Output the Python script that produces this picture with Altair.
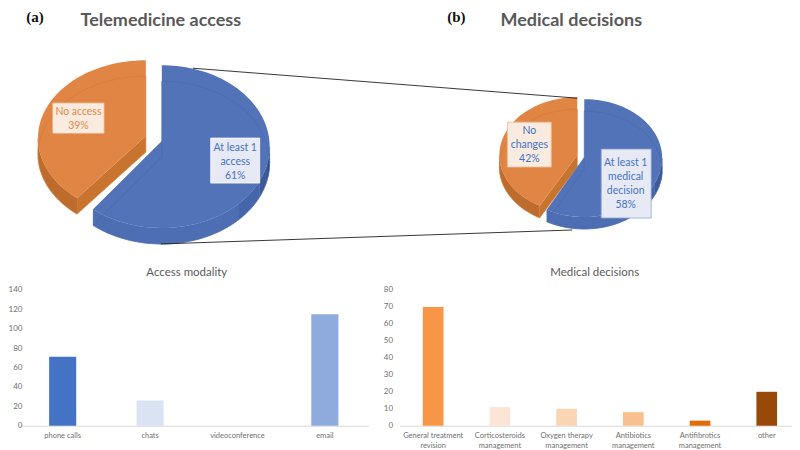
import math
import altair as alt

# --- values
access_labels = ["At least 1 access", "No access"]
access_shares = [61, 39]
decision_labels = ["At least 1 medical decision", "No changes"]
decision_shares = [58, 42]

modality_cats = ["phone calls", "chats", "videoconference", "email"]
modality_vals = [71, 26, 0, 115]
modality_cols = ["#4472c4", "#dae3f3", "#c5d3ee", "#8faadc"]

decision_cats = ["General treatment revision", "Corticosteroids management",
                 "Oxygen therapy management", "Antibiotics management",
                 "Antifibrotics management", "other"]
decision_vals = [70, 11, 10, 8, 3, 20]
decision_cols = ["#f79646", "#fce4d6", "#fbd4b4", "#f8bf8f", "#e36c09", "#984807"]

BLUE, ORANGE = "#5373b8", "#e08543"
FONT = "Lato"

def rim(cx, cy, rx, ry, a0, a1, dy=0):
    n = max(4, int(abs(a1 - a0) / 2))
    pts = []
    for i in range(n + 1):
        a = math.radians(a0 + (a1 - a0) * i / n)
        pts.append([cx + rx * math.sin(a), cy - ry * math.cos(a) + dy])
    return pts

def feat(pts, fill="none", stroke="none", sw=0.0):
    return {"type": "Feature", "geometry": {"type": "Polygon", "coordinates": [pts + [pts[0]]]},
            "properties": {"fill": fill, "stroke": stroke, "sw": sw}}

def sector(cx, cy, rx, ry, a0, a1, apex, **k):
    return feat([apex] + rim(cx, cy, rx, ry, a0, a1), **k)

def wall(cx, cy, rx, ry, a0, a1, d, fill):
    top = rim(cx, cy, rx, ry, a0, a1)
    return feat(top + [[x, y + d] for x, y in reversed(top)], fill=fill, stroke=fill, sw=0.3)

def pie(main, other, bc, bry, bapex, oc, ory, oapex, rx, d):
    split = 360 * main / 100
    out = []
    # orange slice: outer wall, cut wall, face
    out.append(wall(oc[0], oc[1], rx, ory, split, 270, d, "#bd6c2e"))
    tip = rim(oc[0], oc[1], rx, ory, split, split)[0]
    out.append(feat([oapex, tip, [tip[0], tip[1] + d], [oapex[0], oapex[1] + d]], fill="#c8742f"))
    out.append(sector(oc[0], oc[1], rx, ory, split, 360, oapex, fill=ORANGE))
    out.append(sector(oc[0], oc[1] + d, rx, ory, split, 360, [oapex[0], oapex[1] + d],
                      stroke="#d27a3c", sw=0.7))
    # blue slice: outer wall shaded from the right, then face
    shades = [(90, 100, "#2b4678"), (100, 115, "#3a5a98"), (115, 135, "#4566ab"), (135, split, "#4d6eb3")]
    for a0, a1, col in shades:
        out.append(wall(bc[0], bc[1], rx, bry, a0, a1, d, col))
    out.append(sector(bc[0], bc[1], rx, bry, 0, split, bapex, fill=BLUE))
    out.append(sector(bc[0], bc[1] + d, rx, bry, 0, split, [bapex[0], bapex[1] + d],
                      stroke="#4a69ad", sw=0.7))
    return out

features = []
features += pie(access_shares[0], access_shares[1], (161, 146.5), 81.5, [161, 141],
                (145, 138), 78, [145, 136], 108, 16)
features += pie(decision_shares[0], decision_shares[1], (584, 158), 59, [584, 157],
                (577, 155), 58, [577, 155], 78, 12)

def box(x0, y0, x1, y1, fill, stroke):
    return feat([[x0, y0], [x1, y0], [x1, y1], [x0, y1]], fill=fill, stroke=stroke, sw=0.8)

features += [
    box(52, 103, 103, 133, "#f9ebdf", "#f3d9c4"),
    box(210, 138, 259, 183, "#e7eaf5", "#ffffff"),
    box(507, 122, 551, 167, "#f9ebdf", "#f0b98f"),
    box(601, 149, 651, 218, "#e7eaf5", "#8ea6da"),
]

shapes = alt.Chart(alt.Data(values=features)).mark_geoshape().encode(
    fill=alt.Fill("properties.fill:N", scale=None),
    stroke=alt.Stroke("properties.stroke:N", scale=None),
    strokeWidth=alt.StrokeWidth("properties.sw:Q", scale=None),
)

connectors = [
    [[192, 68], [577, 98]],
    [[160, 244], [572, 230]],
]
conn_feats = [{"type": "Feature", "geometry": {"type": "LineString", "coordinates": c}, "properties": {}}
              for c in connectors]
lines = alt.Chart(alt.Data(values=conn_feats)).mark_geoshape(
    filled=False, stroke="#222222", strokeWidth=0.9)

ORANGE_T, BLUE_T = "#e8893f", "#4472c4"
labels = [
    ("No access", 77.5, 111.5, ORANGE_T), ("39%", 77.5, 125.5, ORANGE_T),
    ("At least 1", 234.5, 148, BLUE_T), ("access", 234.5, 162, BLUE_T), ("61%", 234.5, 175.5, BLUE_T),
    ("No", 529, 130.5, BLUE_T), ("changes", 529, 144.5, BLUE_T), ("42%", 529, 158.5, BLUE_T),
    ("At least 1", 625.5, 163, BLUE_T), ("medical", 625.5, 177, BLUE_T),
    ("decision", 625.5, 191, BLUE_T), ("58%", 625.5, 205, BLUE_T),
]
label_rows = [{"t": t, "x": x, "y": y, "c": c} for t, x, y, c in labels]
label_text = alt.Chart(alt.Data(values=label_rows)).mark_text(font=FONT, fontSize=10.5, baseline="middle").encode(
    longitude="x:Q", latitude="y:Q", text="t:N", color=alt.Color("c:N", scale=None))

title_rows = [{"t": "Telemedicine access", "x": 160, "y": 20.5}, {"t": "Medical decisions", "x": 571, "y": 20.5}]
titles = alt.Chart(alt.Data(values=title_rows)).mark_text(
    font=FONT, fontSize=18, fontWeight="bold", color="#595959", baseline="middle").encode(
    longitude="x:Q", latitude="y:Q", text="t:N")

tag_rows = [{"t": "(a)", "x": 34, "y": 16.5}, {"t": "(b)", "x": 456, "y": 16.5}]
tags = alt.Chart(alt.Data(values=tag_rows)).mark_text(
    font="Liberation Serif", fontSize=15, fontWeight="bold", color="#111111", baseline="middle").encode(
    longitude="x:Q", latitude="y:Q", text="t:N")

top = alt.layer(shapes, lines, label_text, titles, tags).project(
    type="identity", scale=1, translate=[-18, -8]).properties(width=772, height=250)

def bars(cats, vals, cols, ymax, step, title, w, outer, align, title_dx, label_expr=None, label_pad=-3):
    rows = [{"c": c, "v": v} for c, v in zip(cats, vals)]
    x_axis = dict(title=None, labelFont=FONT, labelFontSize=7.5, labelColor="#6f6f6f", labelAngle=0,
                  ticks=False, domainColor="#d9d9d9", labelPadding=6, labelLimit=0, labelLineHeight=9.5)
    if label_expr:
        x_axis["labelExpr"] = label_expr
    return alt.Chart(alt.Data(values=rows)).mark_bar().encode(
        x=alt.X("c:N", sort=cats,
                scale=alt.Scale(paddingInner=0.69, paddingOuter=outer, align=align), axis=alt.Axis(**x_axis)),
        y=alt.Y("v:Q", scale=alt.Scale(domain=[0, ymax], nice=False),
                axis=alt.Axis(title=None, values=list(range(0, ymax + 1, step)), grid=False, domain=False,
                              ticks=False, labelFont=FONT, labelFontSize=8, labelColor="#6f6f6f",
                              labelPadding=label_pad)),
        color=alt.Color("c:N", sort=cats, scale=alt.Scale(domain=cats, range=cols), legend=None),
    ).properties(width=w, height=136,
                 title=alt.TitleParams(title, font=FONT, fontSize=11.5, fontWeight="normal",
                                       color="#595959", anchor="middle", offset=7, dx=title_dx))

left = bars(modality_cats, modality_vals, modality_cols, 140, 20, "Access modality", 350, 0.345, 0.5, -7)
right = bars(decision_cats, decision_vals, decision_cols, 80, 10, "Medical decisions", 393, 0.2865, 0.61, -1,
             label_expr="split(replace(datum.label, regexp(' (?=[^ ]+$)'), '|'), '|')", label_pad=7)

bottom = alt.hconcat(left, right, spacing=31, bounds="flush").resolve_scale(color="independent", x="independent", y="independent")
chart = alt.vconcat(top, bottom, spacing=32, bounds="flush").resolve_scale(color="independent").properties(
    padding=0, background="white"
).configure_view(stroke=None)

chart.save("out.html", embed_options={"renderer": "svg", "actions": False})
